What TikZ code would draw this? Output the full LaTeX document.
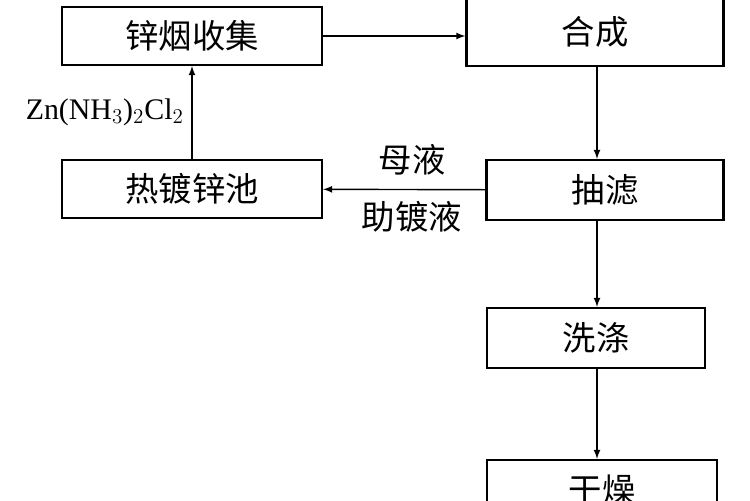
\documentclass[tikz,border=0pt]{standalone}
\usepackage{fontspec}
\setmainfont{Liberation Serif}
\newfontfamily\cjk{Noto Sans CJK SC}
\usetikzlibrary{arrows}

\begin{document}
\begin{tikzpicture}[x=0.02cm,y=-0.02cm,
  stepbox/.style={draw,line width=1.2pt,font=\cjk\fontsize{19}{22}\selectfont,inner sep=0pt},
  flow/.style={line width=0.8pt,-latex}]
\clip (0,0) rectangle (750,500);

\node[stepbox,minimum width=260*0.02cm,minimum height=58*0.02cm] (collect) at (192,36) {锌烟收集};
\node[stepbox,minimum width=257*0.02cm,minimum height=68*0.02cm] (synth) at (595,32) {合成};
\node[stepbox,minimum width=260*0.02cm,minimum height=58*0.02cm] (bath) at (192,189) {热镀锌池};
\node[stepbox,minimum width=237*0.02cm,minimum height=60*0.02cm] (filter) at (605,190) {抽滤};
\node[stepbox,minimum width=218*0.02cm,minimum height=60*0.02cm] (wash) at (596,338) {洗涤};
\node[stepbox,minimum width=230*0.02cm,minimum height=60*0.02cm] (dry) at (602,490) {干燥};

\draw[flow] (collect) -- (collect -| synth.west);
\draw[flow] (synth.south -| 597,0) -- (filter.north -| 597,0);
\draw[flow] (filter) -- (bath);
\draw[flow] (bath) -- (collect);
\draw[flow] (filter.south -| 597,0) -- (wash.north -| 597,0);
\draw[flow] (wash.south -| 597,0) -- (dry.north -| 597,0);

% labels
\node[font=\fontsize{17}{20}\selectfont,anchor=east] (salt) at (190,112) {Zn(NH$_3$)$_2$Cl$_2$};
\node[font=\cjk\fontsize{19}{22}\selectfont] (mother) at (412,160) {母液};
\node[font=\cjk\fontsize{19}{22}\selectfont] (flux) at (412,217) {助镀液};
\end{tikzpicture}
\end{document}
